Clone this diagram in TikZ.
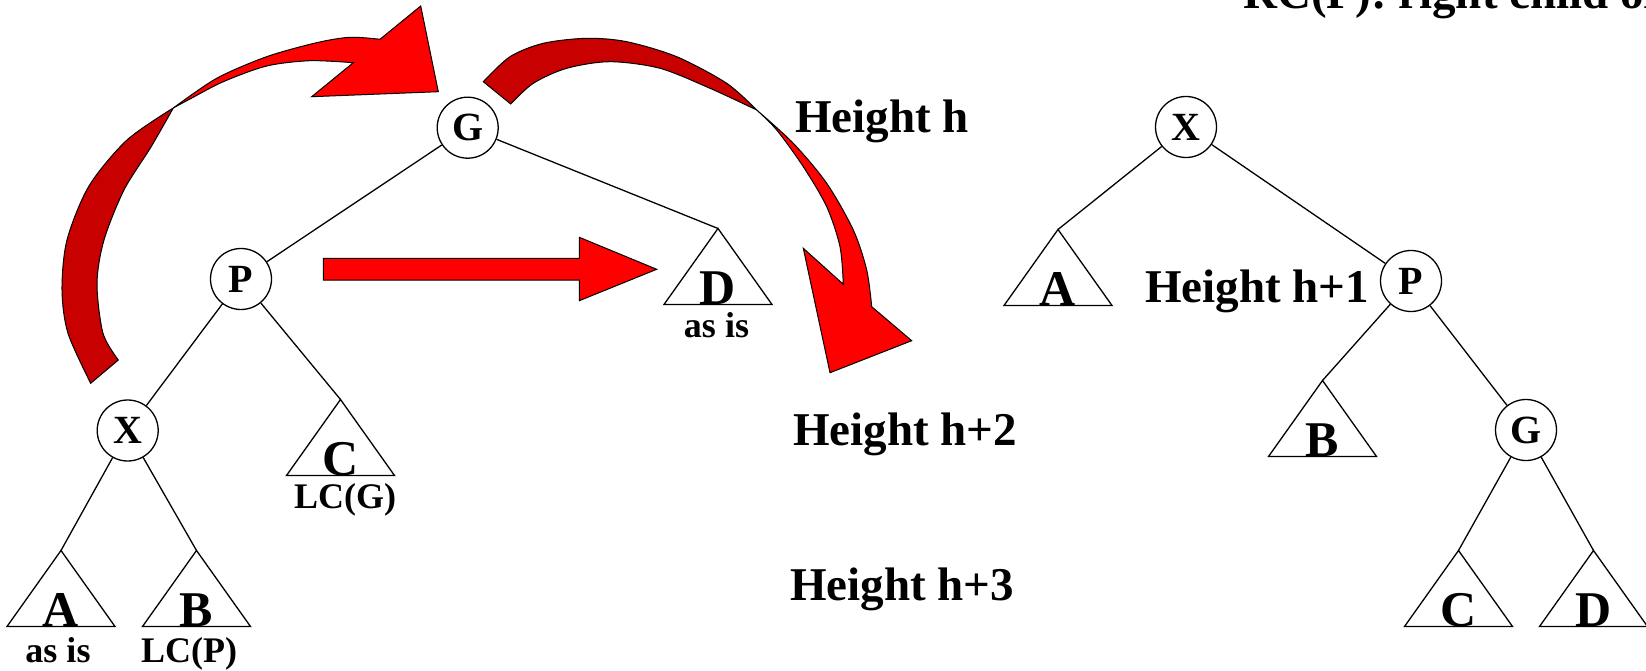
\documentclass[tikz,border=0pt]{standalone}
\usepackage{fontspec}
\setmainfont{Liberation Serif}
\definecolor{darkred}{RGB}{200,0,0}
\definecolor{brightred}{RGB}{255,0,0}
\begin{document}
\begin{tikzpicture}[x=1pt,y=-1pt,
  vtx/.style={circle,draw,line width=1.3pt,minimum size=61pt,inner sep=0pt,fill=white,font=\fontsize{40}{42}\selectfont\bfseries},
  edge/.style={line width=1.3pt},
  tlet/.style={anchor=base,inner sep=0pt,font=\fontsize{50}{54}\selectfont\bfseries},
  sublab/.style={anchor=base,inner sep=0pt,font=\fontsize{36}{40}\selectfont\bfseries},
  hlab/.style={anchor=base west,inner sep=0pt,font=\fontsize{47}{50}\selectfont\bfseries},
  front/.style={fill=brightred,draw=black,line width=1pt,line join=miter},
  back/.style={fill=darkred,draw=black,line width=1pt,line join=miter},
  subtree/.pic={\draw[line width=1.3pt,line join=miter] (0,0) -- (-54,76) -- (54,76) -- cycle;}]
\useasboundingbox (0,0) rectangle (1646,671);
\clip (0,0) rectangle (1646,671);

% ---- curved ribbon arrow 1 (X up to G) ----
\path[back] plot[smooth] coordinates {(90.7,383.3) (68,333.3) (62,290) (67,240) (89,186) (127,140) (173.3,108)}
  -- plot[smooth] coordinates {(173.3,108) (151,147) (124,190) (104,240) (97,283.3) (103,333.3) (118.3,360)} -- cycle;
\path[front] plot[smooth] coordinates {(173.3,108) (216.7,78.3) (266.7,56.7) (316.7,42.7) (350,37.3) (380,39.3)}
  -- (420.7,6) -- (438.3,91.7) -- (311.7,96.7)
  -- plot[smooth] coordinates {(353.3,62.7) (310,60.7) (266.7,66) (223.3,81.7) (190,99) (173.3,108)} -- cycle;

% ---- curved ribbon arrow 2 (G down to the right) ----
\path[back] plot[smooth] coordinates {(483.3,81.7) (510,56.7) (543.3,43.3) (586.7,38.3) (626.7,41.7) (676.7,56.7) (726.7,83.3) (756.7,110)}
  -- plot[smooth] coordinates {(756.7,110) (710,88.3) (660,68.3) (610,61.7) (566.7,68.3) (533.3,83.3) (510.7,104)} -- cycle;
\path[front] plot[smooth] coordinates {(756.7,110) (793.3,143.3) (826.7,183.3) (853.3,230) (866.7,270) (871.7,306.7)}
  -- (911.7,340.7) -- (830,372.7) -- (803.3,248.3)
  -- plot[smooth] coordinates {(843.3,284.3) (840,246.7) (826.7,206.7) (803.3,166.7) (776.7,130) (756.7,110)} -- cycle;

% ---- straight arrow ----
\path[front] (323.3,258.3) -- (579.3,258.3) -- (579.3,237.3) -- (656.7,269.3) -- (579.3,300.7) -- (579.3,280) -- (323.3,280) -- cycle;

% ---- left tree ----
\node[vtx] (G) at (467.7,127.7) {G};
\node[vtx] (P) at (241,279) {P};
\node[vtx] (X) at (127.7,430.5) {X};
\coordinate (tA) at (61,550.5);
\coordinate (tB) at (196.5,550.5);
\coordinate (tC) at (340.5,399.5);
\coordinate (tD) at (718,228.5);
\draw[edge] (G) -- (P);
\draw[edge] (G) -- (tD);
\draw[edge] (P) -- (X);
\draw[edge] (P) -- (tC);
\draw[edge] (X) -- (tA);
\draw[edge] (X) -- (tB);
\pic at (tA) {subtree};
\pic at (tB) {subtree};
\pic at (tC) {subtree};
\pic at (tD) {subtree};
\node[tlet] (lA) at (61,626.5) {A};
\node[tlet] (lB) at (196.5,626.5) {B};
\node[tlet] (lC) at (340.5,475.5) {C};
\node[tlet] (lD) at (718,304.5) {D};
\node[sublab] (sA) at (58,662) {as is};
\node[sublab] (sB) at (189,662) {LC(P)};
\node[sublab] (sC) at (345,508) {LC(G)};
\node[sublab] (sD) at (716.5,337) {as is};

% ---- height labels ----
\node[hlab] (h0) at (795,133) {Height h};
\node[hlab] (h1) at (1145,302) {Height h+1};
\node[hlab] (h2) at (793,445) {Height h+2};
\node[hlab] (h3) at (790,600) {Height h+3};
\node[hlab] (title) at (1243,9) {RC(P): right child of P};

% ---- right tree ----
\node[vtx] (X2) at (1186,127) {X};
\node[vtx] (P2) at (1411,281) {P};
\node[vtx] (G2) at (1526,430) {G};
\coordinate (tA2) at (1058,229.5);
\coordinate (tB2) at (1322.5,380.5);
\coordinate (tC2) at (1458.5,550.5);
\coordinate (tD2) at (1593.5,550.5);
\draw[edge] (X2) -- (tA2);
\draw[edge] (X2) -- (P2);
\draw[edge] (P2) -- (tB2);
\draw[edge] (P2) -- (G2);
\draw[edge] (G2) -- (tC2);
\draw[edge] (G2) -- (tD2);
\pic at (tA2) {subtree};
\pic at (tB2) {subtree};
\pic at (tC2) {subtree};
\pic at (tD2) {subtree};
\node[tlet] (lA2) at (1058,305.5) {A};
\node[tlet] (lB2) at (1322.5,456.5) {B};
\node[tlet] (lC2) at (1458.5,626.5) {C};
\node[tlet] (lD2) at (1593.5,626.5) {D};
\end{tikzpicture}
\end{document}
